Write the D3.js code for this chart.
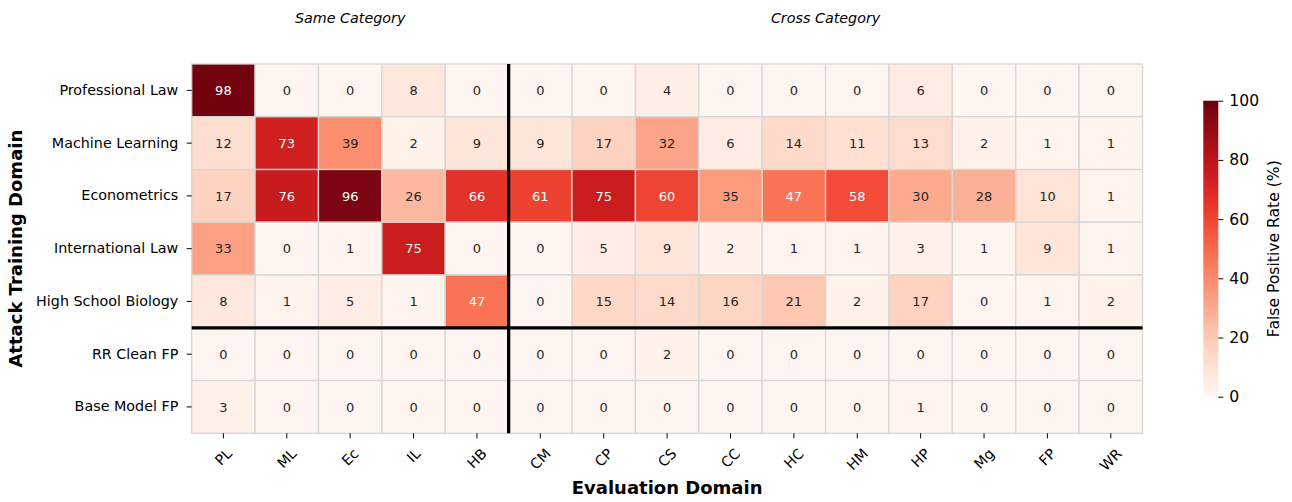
<!DOCTYPE html>
<html>
<head>
<meta charset="utf-8">
<script src="https://cdn.jsdelivr.net/npm/d3@7"></script>
<style>
  body { margin: 0; background: #fff; }
  text { font-family: "DejaVu Sans", sans-serif; }
</style>
</head>
<body>
<div class="canvas"></div>
<script>
// data
const rowLabels = ['Professional Law', 'Machine Learning', 'Econometrics', 'International Law',
    'High School Biology', 'RR Clean FP', 'Base Model FP'];
const colLabels = ['PL', 'ML', 'Ec', 'IL', 'HB', 'CM', 'CP', 'CS', 'CC', 'HC', 'HM', 'HP', 'Mg', 'FP', 'WR'];
const valPL = [98, 0, 0, 8, 0, 0, 0, 4, 0, 0, 0, 6, 0, 0, 0];
const valML = [12, 73, 39, 2, 9, 9, 17, 32, 6, 14, 11, 13, 2, 1, 1];
const valEc = [17, 76, 96, 26, 66, 61, 75, 60, 35, 47, 58, 30, 28, 10, 1];
const valIL = [33, 0, 1, 75, 0, 0, 5, 9, 2, 1, 1, 3, 1, 9, 1];
const valHB = [8, 1, 5, 1, 47, 0, 15, 14, 16, 21, 2, 17, 0, 1, 2];
const valRR = [0, 0, 0, 0, 0, 0, 0, 2, 0, 0, 0, 0, 0, 0, 0];
const valBase = [3, 0, 0, 0, 0, 0, 0, 0, 0, 0, 0, 1, 0, 0, 0];
const rows = [valPL, valML, valEc, valIL, valHB, valRR, valBase];
const colorTicks = [0, 20, 40, 60, 80, 100];

const cells = [];
rows.forEach((r, i) => r.forEach((v, j) => cells.push({ row: rowLabels[i], col: colLabels[j], v })));

const W = 1292, H = 502;
const mLeft = 191.7, mTop = 64, mRight = 1142.5, mBottom = 433.3;
const tickFont = 14.3;

const svg = d3.select('.canvas')
    .append('svg')
    .attr('width', W)
    .attr('height', H);

// scales
const x = d3.scaleBand().domain(colLabels).range([mLeft, mRight]);
const y = d3.scaleBand().domain(rowLabels).range([mTop, mBottom]);
const color = d3.scaleSequential(d3.interpolateReds).domain([0, 100]);

// cells
svg.append('g').selectAll('rect')
    .data(cells)
    .enter()
    .append('rect')
    .attr('x', d => x(d.col))
    .attr('y', d => y(d.row))
    .attr('width', x.bandwidth())
    .attr('height', y.bandwidth())
    .attr('fill', d => color(d.v))
    .attr('stroke', '#d6d6d6')
    .attr('stroke-width', 1.3);

svg.append('g').selectAll('text')
    .data(cells)
    .enter()
    .append('text')
    .attr('x', d => x(d.col) + x.bandwidth() / 2)
    .attr('y', d => y(d.row) + y.bandwidth() / 2)
    .attr('dy', '0.36em')
    .attr('text-anchor', 'middle')
    .attr('font-size', 13)
    .attr('fill', d => d.v > 42 ? '#ffffff' : '#262626')
    .text(d => d.v);

// separator lines
svg.append('line')
    .attr('x1', x('CM')).attr('x2', x('CM'))
    .attr('y1', mTop).attr('y2', mBottom)
    .attr('stroke', '#000').attr('stroke-width', 3.3);
svg.append('line')
    .attr('x1', mLeft).attr('x2', mRight)
    .attr('y1', y('RR Clean FP')).attr('y2', y('RR Clean FP'))
    .attr('stroke', '#000').attr('stroke-width', 3.3);

// axes
const yAxis = d3.axisLeft(y).tickSize(5).tickPadding(8.4);
const yg = svg.append('g').attr('transform', `translate(${mLeft},0)`).call(yAxis);
yg.select('.domain').remove();
yg.selectAll('text').attr('font-size', tickFont).attr('fill', '#000').style('font-family', 'DejaVu Sans');
yg.selectAll('line').attr('stroke', '#000');

const xAxis = d3.axisBottom(x).tickSize(5).tickPadding(6);
const xg = svg.append('g').attr('transform', `translate(0,${mBottom})`).call(xAxis);
xg.select('.domain').remove();
xg.selectAll('line').attr('stroke', '#000');
xg.selectAll('text')
    .attr('font-size', tickFont)
    .attr('fill', '#000')
    .style('font-family', 'DejaVu Sans')
    .attr('text-anchor', 'middle')
    .attr('y', 0)
    .attr('dy', '0.35em')
    .attr('transform', function () {
        // centre the rotated label box under its tick, top of box just below the tick
        const len = this.getComputedTextLength();
        const boxH = (len + tickFont * 0.75) * Math.SQRT1_2;
        return `translate(0,${14 + boxH / 2}) rotate(-45)`;
    });

// axis titles
svg.append('text')
    .attr('x', (mLeft + mRight) / 2).attr('y', 494)
    .attr('text-anchor', 'middle')
    .attr('font-size', 18).attr('font-weight', 'bold')
    .text('Evaluation Domain');
svg.append('text')
    .attr('transform', `translate(22,${(mTop + mBottom) / 2}) rotate(-90)`)
    .attr('text-anchor', 'middle')
    .attr('font-size', 18).attr('font-weight', 'bold')
    .text('Attack Training Domain');

// category annotations
svg.append('text')
    .attr('x', (x('PL') + x('CM')) / 2).attr('y', 22.5)
    .attr('text-anchor', 'middle')
    .attr('font-size', tickFont).attr('font-style', 'italic')
    .text('Same Category');
svg.append('text')
    .attr('x', (x('CM') + mRight) / 2).attr('y', 22.5)
    .attr('text-anchor', 'middle')
    .attr('font-size', tickFont).attr('font-style', 'italic')
    .text('Cross Category');

// colorbar
const cbX = 1203.3, cbW = 15, cbTop = 100.7, cbBot = 396.7;
const cy = d3.scaleLinear().domain([0, 100]).range([cbBot, cbTop]);
const defs = svg.append('defs');
const grad = defs.append('linearGradient')
    .attr('id', 'cbgrad')
    .attr('x1', '0%').attr('y1', '100%').attr('x2', '0%').attr('y2', '0%');
d3.range(0, 101, 5).forEach(t => {
    grad.append('stop').attr('offset', t + '%').attr('stop-color', color(t));
});
svg.append('rect')
    .attr('x', cbX).attr('y', cbTop)
    .attr('width', cbW).attr('height', cbBot - cbTop)
    .attr('fill', 'url(#cbgrad)');
const cAxis = d3.axisRight(cy).tickValues(colorTicks).tickSize(5).tickPadding(6);
const cg = svg.append('g').attr('transform', `translate(${cbX + cbW},0)`).call(cAxis);
cg.select('.domain').remove();
cg.selectAll('line').attr('stroke', '#000');
cg.selectAll('text').attr('font-size', 15.6).attr('fill', '#000').style('font-family', 'DejaVu Sans');
svg.append('text')
    .attr('transform', `translate(1279,${(cbTop + cbBot) / 2}) rotate(-90)`)
    .attr('text-anchor', 'middle')
    .attr('font-size', 15.6)
    .text('False Positive Rate (%)');
</script>
</body>
</html>
